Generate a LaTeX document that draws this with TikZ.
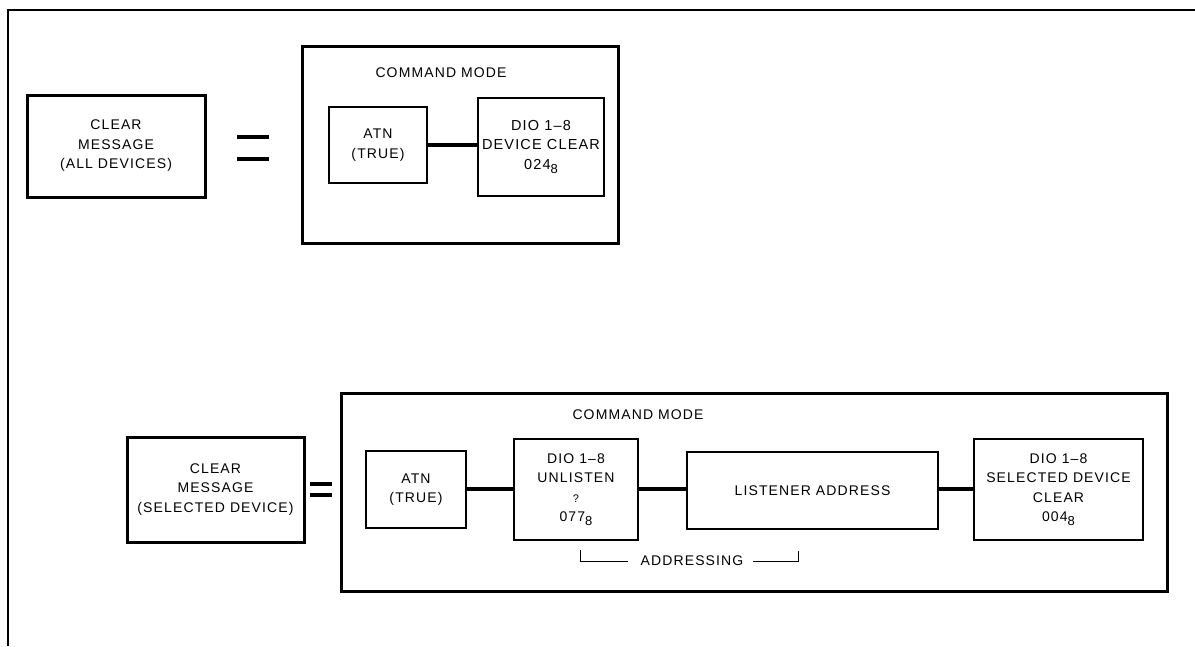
\documentclass[tikz,border=0pt]{standalone}
\usepackage{fontspec}
\setmainfont{Liberation Sans}[LetterSpace=8]
\newcommand{\octnum}[1]{#1\raisebox{-0.55ex}{\fontsize{13}{13}\selectfont 8}}
\begin{document}
\begin{tikzpicture}[x=1pt,y=-1pt,
  txt/.style={align=center, inner sep=0pt, font=\fontsize{14}{19.5}\selectfont},
  heavybox/.style={draw, line width=3pt, inner sep=0pt},
  lightbox/.style={draw, line width=1.7pt, txt},
  conn/.style={line width=3.4pt},
  eqbar/.style={line width=3.4pt},
  brk/.style={line width=1pt}]
\useasboundingbox (0,0) rectangle (1195,646);
% page frame (top and left edges)
\draw[line width=2.4pt] (1195,10) -- (8,10) -- (8,646);

% ---------- upper: clear message (all devices) ----------
\node[heavybox, txt, minimum width=178pt, minimum height=102pt] (clr1) at (116,146)
  {CLEAR\\MESSAGE\\(ALL DEVICES)};
\draw[eqbar] (237,137) -- (269,137);
\draw[eqbar] (237,159) -- (269,159);
\node[heavybox, minimum width=316pt, minimum height=197pt] (cmd1) at (460,144.5) {};
\node[txt] (cm1) at (441,73) {COMMAND MODE};
\node[lightbox, minimum width=98pt, minimum height=76pt] (atn1) at (378,145) {ATN\\(TRUE)};
\node[lightbox, minimum width=126pt, minimum height=98pt,
  font=\fontsize{14.5}{19.5}\selectfont] (dio1) at (541,147)
  {DIO 1--8\\DEVICE CLEAR\\\octnum{024}};
\draw[conn] (atn1.east) -- (atn1.east -| dio1.west);

% ---------- lower: clear message (selected device) ----------
\node[heavybox, txt, minimum width=177pt, minimum height=105pt] (clr2) at (215.5,489.5)
  {CLEAR\\MESSAGE\\(SELECTED DEVICE)};
\draw[line width=4pt] (310,484) -- (332,484);
\draw[line width=4pt] (310,495) -- (332,495);
\node[heavybox, minimum width=826pt, minimum height=198pt] (cmd2) at (754,492) {};
\node[txt] (cm2) at (638,415) {COMMAND MODE};
\node[lightbox, minimum width=100pt, minimum height=77pt] (atn2) at (416,489.5) {ATN\\(TRUE)};
\node[lightbox, minimum width=124pt, minimum height=101pt] (unl) at (576,489.5)
  {DIO 1--8\\UNLISTEN\\{\fontsize{11}{19.5}\selectfont ?}\\\octnum{077}};
\node[lightbox, minimum width=251pt, minimum height=77pt] (lis) at (812.5,490.5) {LISTENER ADDRESS};
\node[lightbox, minimum width=169pt, minimum height=101pt] (dsel) at (1058.5,489.5)
  {DIO 1--8\\SELECTED DEVICE\\CLEAR\\\octnum{004}};
\draw[conn] (atn2.east |- 0,489) -- (unl.west |- 0,489);
\draw[conn] (unl.east |- 0,489) -- (lis.west |- 0,489);
\draw[conn] (lis.east |- 0,489) -- (dsel.west |- 0,489);

% addressing bracket
\node[txt] (addr) at (692,561) {ADDRESSING};
\coordinate (bl) at (580,550);
\coordinate (br) at (798,551);
\draw[brk] (bl) |- ([xshift=-12pt]addr.west);
\draw[brk] (br) |- ([xshift=9pt]addr.east);
\end{tikzpicture}
\end{document}
